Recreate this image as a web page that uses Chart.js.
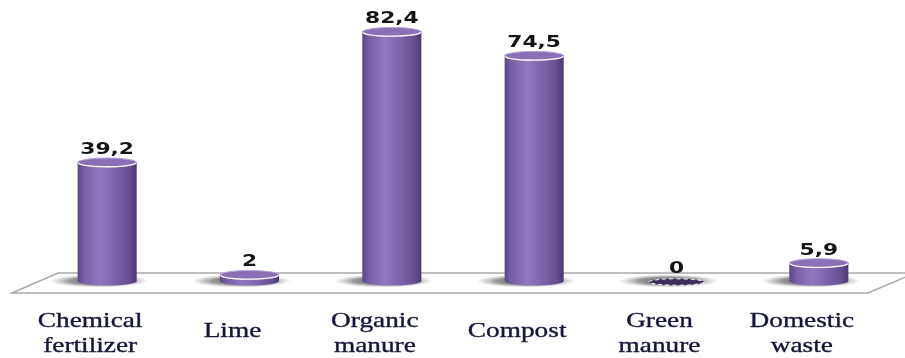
<!DOCTYPE html>
<html>
<head>
<meta charset="utf-8">
<script src="https://cdn.jsdelivr.net/npm/chart.js@4/dist/chart.umd.min.js"></script>
<style>
  html, body { margin: 0; padding: 0; background: #fff; }
  canvas { display: block; }
</style>
</head>
<body>
<canvas id="usage-chart" width="905" height="358"></canvas>
<script>
// Share of farms using each soil amendment (%)
const categories = [
    ['Chemical', 'fertilizer'],
    ['Lime'],
    ['Organic', 'manure'],
    ['Compost'],
    ['Green', 'manure'],
    ['Domestic', 'waste']
];
const values = [39.2, 2, 82.4, 74.5, 0, 5.9];
const yMin = 0;
const yMax = 90;

// decimal comma, as in the original report
function formatValue(v) {
    return String(v).replace('.', ',');
}

function stretchedText(ctx, text, x, y, sx, outline) {
    ctx.save();
    ctx.translate(x, y);
    ctx.scale(sx, 1);
    ctx.fillText(text, 0, 0);
    if (outline) {
        ctx.lineWidth = outline;
        ctx.strokeStyle = ctx.fillStyle;
        ctx.strokeText(text, 0, 0);
    }
    ctx.restore();
}

const cylinderPlugin = {
    id: 'cylinders',
    beforeDatasetsDraw(chart) {
        const ctx = chart.ctx;
        const area = chart.chartArea;
        const base = chart.scales.y.getPixelForValue(0);
        const backY = base - 8;
        const frontY = base + 12;

        // floor plane
        ctx.save();
        ctx.beginPath();
        ctx.moveTo(area.left + 22, backY);
        ctx.lineTo(chart.width + 10, backY);
        ctx.lineTo(area.right - 22, frontY);
        ctx.lineTo(area.left - 24, frontY);
        ctx.closePath();
        ctx.fillStyle = '#ffffff';
        ctx.fill();
        ctx.strokeStyle = '#a9a9a9';
        ctx.lineWidth = 1.5;
        ctx.stroke();

        // soft shadows under each cylinder, cast slightly to the left
        const meta = chart.getDatasetMeta(0);
        meta.data.forEach(bar => {
            const rx = bar.width * 0.85;
            ctx.save();
            ctx.translate(bar.x - 8, base);
            ctx.scale(1, 0.13);
            const g = ctx.createRadialGradient(0, 0, 0, 0, 0, rx);
            g.addColorStop(0, 'rgba(60,60,60,0.85)');
            g.addColorStop(0.6, 'rgba(95,95,95,0.65)');
            g.addColorStop(0.85, 'rgba(150,150,150,0.3)');
            g.addColorStop(1, 'rgba(190,190,190,0)');
            ctx.fillStyle = g;
            ctx.beginPath();
            ctx.arc(0, 0, rx, 0, Math.PI * 2);
            ctx.fill();
            ctx.restore();
        });
        ctx.restore();
    },
    afterDatasetsDraw(chart) {
        const ctx = chart.ctx;
        const meta = chart.getDatasetMeta(0);
        const base = chart.scales.y.getPixelForValue(0);

        meta.data.forEach((bar, i) => {
            const x = bar.x;
            const top = bar.y;
            const bottom = bar.base;
            const rx = bar.width / 2;
            const ry = 4.5;

            ctx.save();
            if (values[i] === 0) {
                // empty series: flat disc on the floor
                ctx.beginPath();
                ctx.ellipse(x, bottom + 1, rx - 2, 3.2, 0, 0, Math.PI * 2);
                ctx.fillStyle = '#3d2d5a';
                ctx.fill();
                ctx.setLineDash([4, 3]);
                ctx.strokeStyle = 'rgba(255,255,255,0.85)';
                ctx.lineWidth = 1.1;
                ctx.stroke();
            } else {
                const g = ctx.createLinearGradient(x - rx, 0, x + rx, 0);
                g.addColorStop(0, '#5c4685');
                g.addColorStop(0.12, '#7860a6');
                g.addColorStop(0.38, '#9279bf');
                g.addColorStop(0.6, '#8166ae');
                g.addColorStop(0.88, '#664e91');
                g.addColorStop(1, '#4c3870');
                ctx.beginPath();
                ctx.moveTo(x - rx, top);
                ctx.lineTo(x - rx, bottom);
                ctx.ellipse(x, bottom, rx, ry, 0, Math.PI, 0, true);
                ctx.lineTo(x + rx, top);
                ctx.closePath();
                ctx.fillStyle = g;
                ctx.fill();

                // top cap
                ctx.beginPath();
                ctx.ellipse(x, top, rx, ry, 0, 0, Math.PI * 2);
                ctx.fillStyle = '#8a70b6';
                ctx.fill();
                ctx.strokeStyle = '#b8a5d6';
                ctx.lineWidth = 1;
                ctx.stroke();
                ctx.beginPath();
                ctx.ellipse(x, top, rx - 0.5, ry - 0.3, 0, 0.1, Math.PI - 0.1);
                ctx.strokeStyle = 'rgba(255,255,255,0.95)';
                ctx.lineWidth = 1.3;
                ctx.stroke();
            }
            ctx.restore();

            // value label
            ctx.save();
            ctx.fillStyle = '#141414';
            ctx.font = 'bold 15px "DejaVu Sans"';
            ctx.textAlign = 'center';
            ctx.textBaseline = 'alphabetic';
            stretchedText(ctx, formatValue(values[i]), x, top - 8.5, 1.45);
            ctx.restore();
        });

        // category labels under the floor, set a little left of each bar
        const xScale = chart.scales.x;
        ctx.save();
        ctx.fillStyle = '#16163c';
        ctx.font = '21px "Liberation Serif"';
        ctx.textAlign = 'center';
        ctx.textBaseline = 'alphabetic';
        categories.forEach((lines, i) => {
            const x = xScale.getPixelForTick(i) - 17;
            if (lines.length === 1) {
                stretchedText(ctx, lines[0], x, base + 56, 1.3, 0.35);
            } else {
                lines.forEach((line, j) => {
                    stretchedText(ctx, line, x, base + 46 + j * 25, 1.3, 0.35);
                });
            }
        });
        ctx.restore();
    }
};

const ctx = document.getElementById('usage-chart').getContext('2d');
new Chart(ctx, {
    type: 'bar',
    data: {
        labels: categories.map(c => c.join(' ')),
        datasets: [{
            data: values,
            backgroundColor: 'rgba(0,0,0,0)',
            borderWidth: 0,
            barPercentage: 0.415,
            categoryPercentage: 1
        }]
    },
    options: {
        responsive: false,
        animation: false,
        layout: {
            padding: { left: 36, right: 15, top: 9, bottom: 77 }
        },
        scales: {
            x: { display: false },
            y: { display: false, min: yMin, max: yMax }
        },
        plugins: {
            legend: { display: false },
            tooltip: { enabled: false }
        }
    },
    plugins: [cylinderPlugin]
});
</script>
</body>
</html>
